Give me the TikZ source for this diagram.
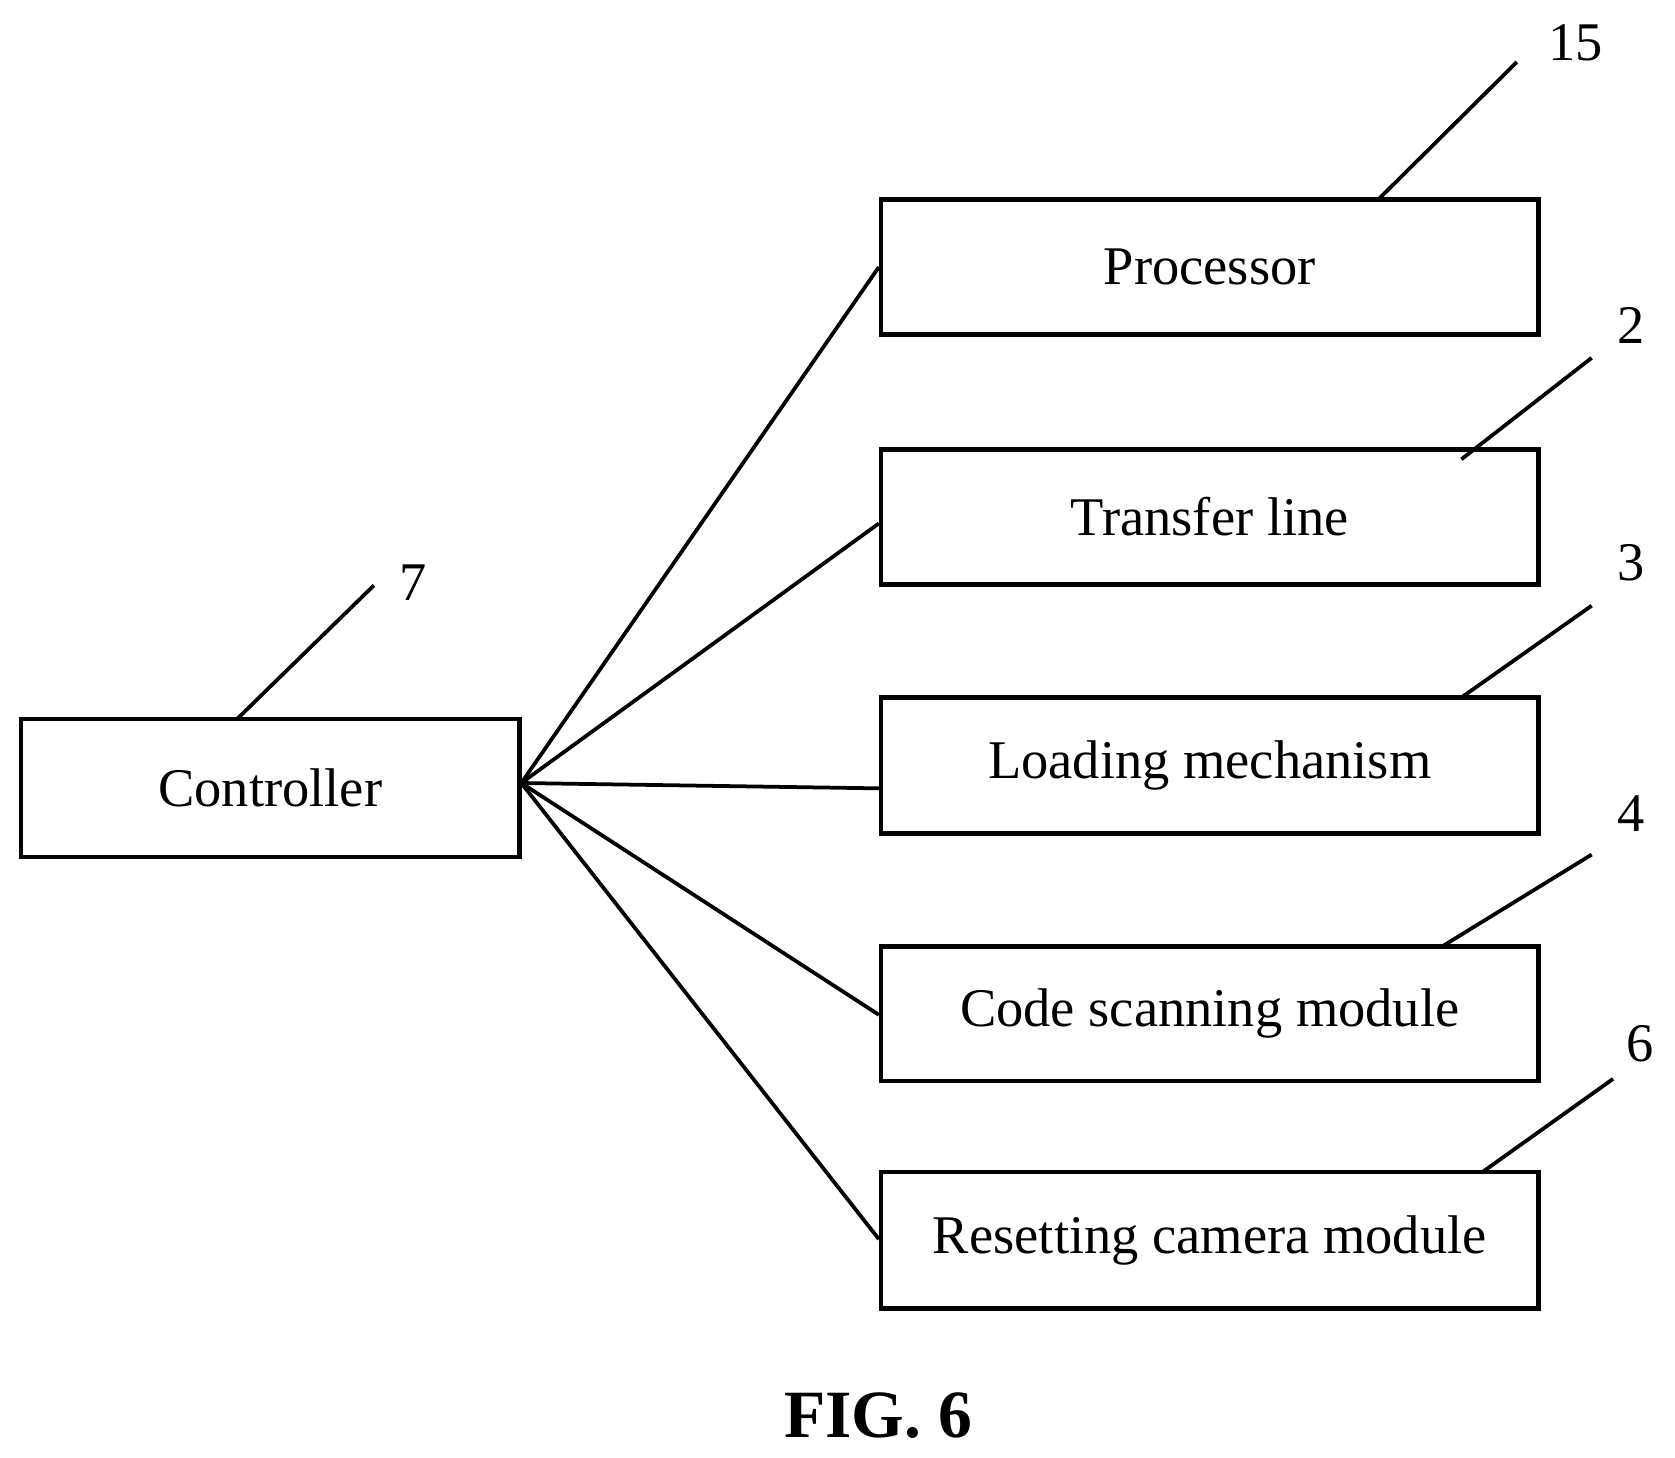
\documentclass[tikz,border=0pt]{standalone}
\usepackage{fontspec}
\setmainfont{Liberation Serif}
\begin{document}
\begin{tikzpicture}[x=0.01cm,y=-0.01cm,
  box/.style={draw,line width=1.2pt,minimum height=1.27cm,inner sep=0pt,font=\fontsize{14.5}{17}\selectfont},
  rbox/.style={box,minimum width=6.15cm},
  lbl/.style={font=\fontsize{14.5}{17}\selectfont},
  ln/.style={line width=1pt}]
\useasboundingbox (0,0) rectangle (1568,1364);
\node[box,minimum width=4.66cm,minimum height=1.29cm] (c) at (253,737.5) {Controller};
\node[rbox,minimum height=1.26cm] (p) at (1132.5,250) {Processor};
\node[rbox,minimum height=1.26cm] (t) at (1132.5,484) {Transfer line};
\node[rbox] (l) at (1132.5,716.5) {Loading mechanism};
\node[rbox,minimum height=1.26cm] (s) at (1132.5,949) {Code scanning module};
\node[rbox,minimum height=1.28cm] (r) at (1132.5,1161) {Resetting camera module};
\coordinate (h) at (488,733);
\foreach \n/\y in {p/250,t/490,l/738,s/950,r/1160}
  \draw[ln] (h) -- (\n.west |- 0,\y);
\coordinate (e15) at (1420,58); \coordinate (e2) at (1490,335);
\coordinate (e3) at (1490,567); \coordinate (e4) at (1490,800);
\coordinate (e6) at (1510,1010); \coordinate (e7) at (350,548);
\draw[ln] (1290,187) -- (e15);
\draw[ln] (1368,430) -- (e2);
\draw[ln] (1368,653) -- (e3);
\draw[ln] (1350,886) -- (e4);
\draw[ln] (1388,1097) -- (e6);
\draw[ln] (222,673) -- (e7);
\node[lbl] (n15) at (1475,40) {15};
\node[lbl] (n2) at (1527,305) {2};
\node[lbl] (n3) at (1527,527) {3};
\node[lbl] (n4) at (1527,762) {4};
\node[lbl] (n6) at (1535,977) {6};
\node[lbl] (n7) at (387,545) {7};
\node[font=\fontsize{18}{21}\selectfont\bfseries] (fig) at (822,1325) {FIG. 6};
\end{tikzpicture}
\end{document}
